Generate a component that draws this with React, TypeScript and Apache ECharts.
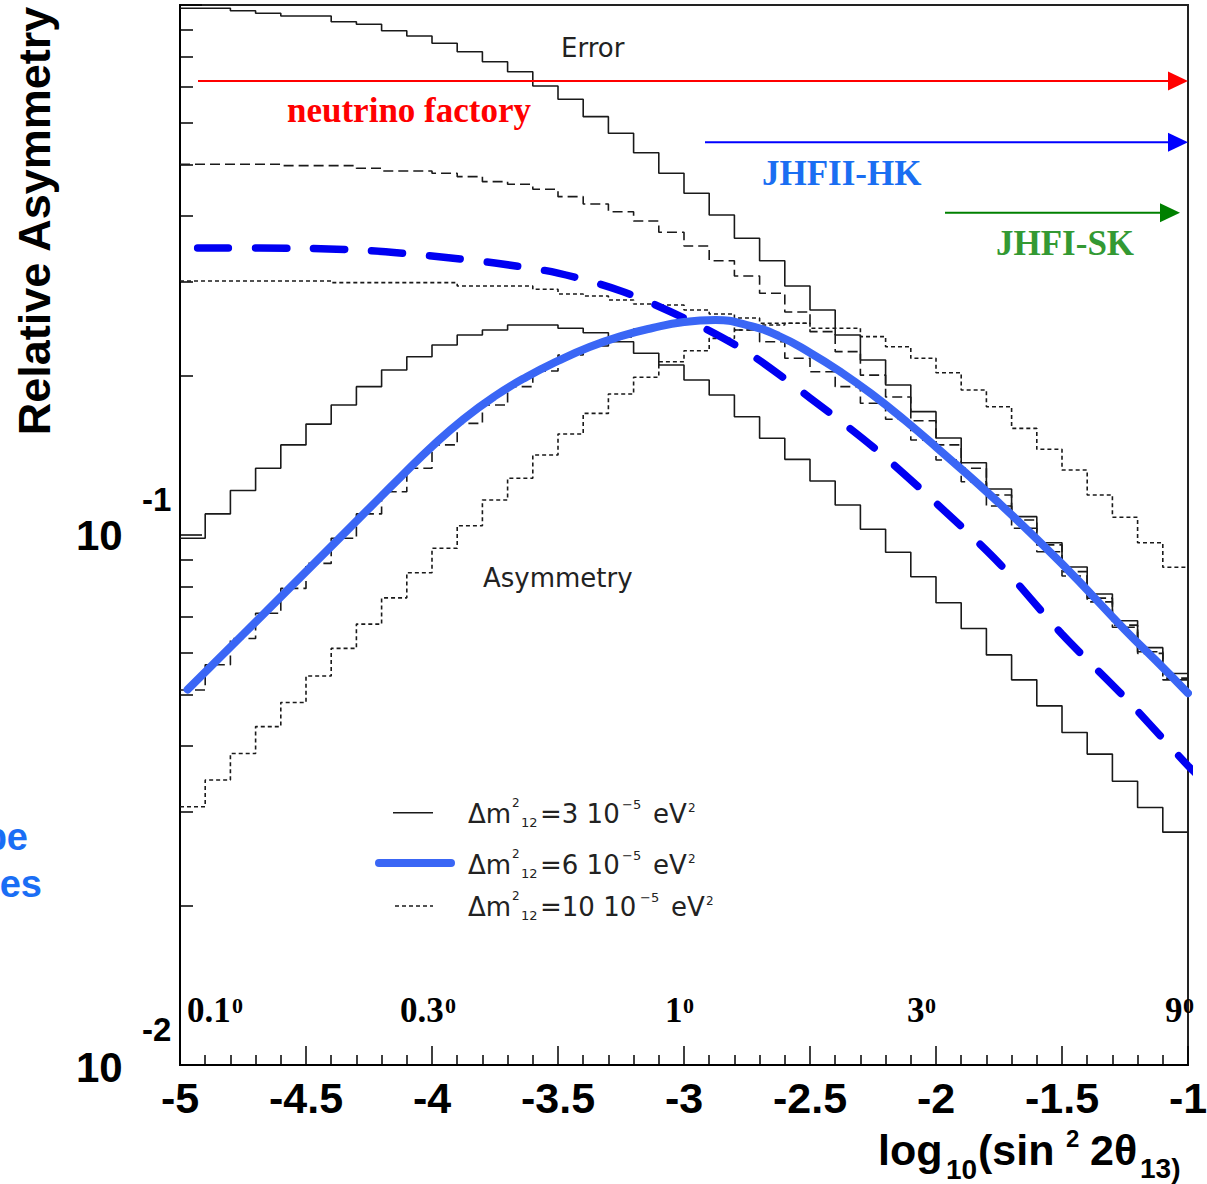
import React, { useEffect, useRef } from "react";
import * as echarts from "echarts";

// bin edges of the histograms (log10 sin^2 2theta13)
const BIN_EDGES = [-5.0, -4.9, -4.8, -4.7, -4.6, -4.5, -4.4, -4.3, -4.2, -4.1, -4.0, -3.9, -3.8, -3.7, -3.6, -3.5, -3.4, -3.3, -3.2, -3.1, -3.0, -2.9, -2.8, -2.7, -2.6, -2.5, -2.4, -2.3, -2.2, -2.1, -2.0, -1.9, -1.8, -1.7, -1.6, -1.5, -1.4, -1.3, -1.2, -1.1, -1.0];

// Δm²12 = 3e-5 (solid)
const ERR_DM3 = [0.986, 0.986, 0.9755, 0.9646, 0.9533, 0.9533, 0.930, 0.9196, 0.8944, 0.874, 0.8467, 0.8163, 0.7816, 0.7484, 0.7034, 0.6639, 0.6156, 0.5727, 0.5264, 0.4815, 0.4413, 0.4016, 0.3629, 0.3293, 0.2950, 0.2658, 0.2384, 0.2139, 0.1919, 0.1709, 0.1524, 0.1369, 0.1221, 0.1083, 0.0967, 0.0870, 0.0774, 0.0689, 0.0613, 0.0548];
const ASYM_DM3 = [0.0986, 0.1096, 0.1213, 0.1336, 0.1479, 0.1619, 0.1759, 0.1905, 0.2048, 0.2170, 0.2283, 0.2384, 0.2437, 0.2490, 0.2490, 0.2455, 0.2408, 0.2315, 0.2202, 0.2093, 0.1961, 0.1837, 0.1672, 0.1522, 0.1389, 0.1264, 0.1139, 0.1025, 0.0928, 0.0834, 0.0745, 0.0666, 0.0594, 0.0533, 0.0476, 0.0424, 0.0386, 0.0343, 0.0306, 0.0275];

// Δm²12 = 6e-5 (dashed)
const ERR_DM6 = [0.5006, 0.5006, 0.5006, 0.5006, 0.4976, 0.4976, 0.4976, 0.4920, 0.4862, 0.4862, 0.4815, 0.4744, 0.4642, 0.4590, 0.4491, 0.4349, 0.4213, 0.4074, 0.3913, 0.3725, 0.3509, 0.3293, 0.3081, 0.2858, 0.2635, 0.2419, 0.2218, 0.2003, 0.1821, 0.1643, 0.1479, 0.1336, 0.1190, 0.1067, 0.0958, 0.0853, 0.0760, 0.0676, 0.0602, 0.0537];
const ASYM_DM6 = [0.0510, 0.0569, 0.0638, 0.0712, 0.0793, 0.0884, 0.0986, 0.1096, 0.1207, 0.1336, 0.1479, 0.1624, 0.1759, 0.1905, 0.2039, 0.2186, 0.2273, 0.2364, 0.2447, 0.2501, 0.2534, 0.2534, 0.2437, 0.2315, 0.2155, 0.2033, 0.1905, 0.1772, 0.1653, 0.1511, 0.1385, 0.1260, 0.1134, 0.1030, 0.0930, 0.0837, 0.0748, 0.0670, 0.0598, 0.0533];

// Δm²12 = 10e-5 (dotted); error merges with asymmetry after bin 24
const ERR_DM10 = [0.3015, 0.3015, 0.3015, 0.3015, 0.3015, 0.3015, 0.2993, 0.2993, 0.2993, 0.2993, 0.2993, 0.2950, 0.2950, 0.2950, 0.2908, 0.2849, 0.2824, 0.2776, 0.2728, 0.2716, 0.2658, 0.2612, 0.2567, 0.2509, 0.2509];
const ASYM_DM10 = [0.0307, 0.0345, 0.0387, 0.0435, 0.0483, 0.0542, 0.0611, 0.0679, 0.0761, 0.0849, 0.0944, 0.1041, 0.1164, 0.1280, 0.1416, 0.1551, 0.1696, 0.1845, 0.1984, 0.2123, 0.2227, 0.2350, 0.2437, 0.2490, 0.2509, 0.2455, 0.2455, 0.2367, 0.2266, 0.2155, 0.2024, 0.1877, 0.1746, 0.1589, 0.1451, 0.1326, 0.1190, 0.1080, 0.0967, 0.0869];

// hand-drawn blue curves
const BLUE_DASHED_X = [-4.93, -4.5, -4.25, -4.0, -3.75, -3.5, -3.25, -3.0, -2.75, -2.5, -2.25, -2.0, -1.75, -1.5, -1.25, -1.0, -0.95];
const BLUE_DASHED_Y = [0.348, 0.3474, 0.3439, 0.336, 0.3259, 0.312, 0.2887, 0.2566, 0.2214, 0.1814, 0.1466, 0.1149, 0.0885, 0.065, 0.0493, 0.0367, 0.0348];
const BLUE_SOLID_X = [-4.97, -4.75, -4.5, -4.25, -4.125, -4.0, -3.875, -3.75, -3.625, -3.5, -3.375, -3.25, -3.125, -3.0, -2.875, -2.75, -2.625, -2.5, -2.375, -2.25, -2.125, -2.0, -1.75, -1.5, -1.25, -1.125, -1.0];
const BLUE_SOLID_Y = [0.0511, 0.0649, 0.0853, 0.1122, 0.1286, 0.1469, 0.1655, 0.1829, 0.1987, 0.2130, 0.2263, 0.2373, 0.2458, 0.2522, 0.2544, 0.2490, 0.2376, 0.2208, 0.2026, 0.1837, 0.1648, 0.1466, 0.1149, 0.0882, 0.0662, 0.0578, 0.0503];

const Y_MINOR_TICKS = [0.02, 0.03, 0.04, 0.05, 0.06, 0.07, 0.08, 0.09, 0.2, 0.3, 0.4, 0.5, 0.6, 0.7, 0.8, 0.9];
const Y_LABEL_VALUES = [0.1, 0.01];
const Y_LABEL_EXPONENTS = ["-1", "-2"];
const DEGREE_LABELS = ["0.1", "0.3", "1", "3", "9"];
const LEGEND_VALUES = ["=3 10", "=6 10", "=10 10"];

function hist(values: number[]) {
  const pts: number[][] = values.map((v, i) => [BIN_EDGES[i], v]);
  pts.push([BIN_EDGES[values.length], values[values.length - 1]]);
  return pts;
}

function pairs(xs: number[], ys: number[]) {
  return xs.map((x, i) => [x, ys[i]]);
}

const INK = "#1a1a1a";
const SANS = '"Liberation Sans", Arial, sans-serif';
const SERIF = '"Liberation Serif", "Times New Roman", serif';
const ROOTF = '"DejaVu Sans", sans-serif';

function histSeries(values: number[], type: any) {
  return {
    type: "line",
    data: hist(values),
    step: "end",
    symbol: "none",
    showSymbol: false,
    silent: true,
    lineStyle: { color: INK, width: 1.6, type },
    z: 2,
  };
}

function txt(text: string, x: number, y: number, font: string, fill: string, align = "left", extra: any = {}) {
  return {
    type: "text",
    x,
    y,
    z: 100,
    silent: true,
    ...extra,
    style: {
      text,
      font,
      fill,
      align,
      verticalAlign: "middle",
      textAlign: align,
      textVerticalAlign: "middle",
    },
  };
}

function arrow(x1: number, x2: number, y: number, color: string) {
  return [
    { type: "line", z: 100, silent: true, shape: { x1, y1: y, x2: x2 - 18, y2: y }, style: { stroke: color, lineWidth: 2 } },
    {
      type: "polygon",
      z: 100,
      silent: true,
      shape: { points: [[x2 - 20, y - 9.5], [x2, y], [x2 - 20, y + 9.5]] },
      style: { fill: color },
    },
  ];
}

export default function App() {
  const ref = useRef<HTMLDivElement>(null);

  useEffect(() => {
    document.body.style.margin = "0";
    const chart = echarts.init(ref.current!, null, { renderer: "svg" });
    const option: any = {
      animation: false,
      backgroundColor: "#ffffff",
      grid: {
        left: 180,
        right: 19,
        top: 5,
        bottom: 119,
        containLabel: false,
        outerBoundsMode: "none",
        show: true,
        borderColor: "#222",
        borderWidth: 2,
        backgroundColor: "transparent",
      },
      xAxis: {
        type: "value",
        min: -5,
        max: -1,
        interval: 0.5,
        axisLine: { show: true, onZero: false, lineStyle: { color: "#000", width: 2 } },
        axisTick: { show: true, inside: true, length: 19, lineStyle: { color: "#000", width: 1.5 } },
        minorTick: { show: true, splitNumber: 5, length: 10, lineStyle: { color: "#000", width: 1.5 } },
        splitLine: { show: false },
        minorSplitLine: { show: false },
        axisLabel: {
          show: true,
          margin: 11,
          color: "#000",
          fontFamily: SANS,
          fontWeight: "bold",
          fontSize: 43,
          showMinLabel: true,
          showMaxLabel: true,
          hideOverlap: false,
          formatter: (v: number) => String(v),
        },
      },
      yAxis: [
        {
          type: "log",
          logBase: 10,
          min: 0.01,
          max: 1,
          position: "left",
          axisLine: { show: true, onZero: false, lineStyle: { color: "#000", width: 2 } },
          axisTick: { show: true, inside: true, length: 22, lineStyle: { color: "#000", width: 1.5 } },
          axisLabel: { show: false },
          splitLine: { show: false },
          minorTick: { show: false },
        },
        {
          type: "log",
          logBase: 10,
          min: 0.01,
          max: 1,
          position: "left",
          offset: 0,
          axisLine: { show: false },
          axisTick: { show: true, inside: true, length: 13, customValues: Y_MINOR_TICKS, lineStyle: { color: "#000", width: 1.5 } },
          axisLabel: { show: false },
          splitLine: { show: false },
        },
      ],
      series: [
        histSeries(ERR_DM3, "solid"),
        histSeries(ASYM_DM3, "solid"),
        histSeries(ERR_DM6, [10, 5]),
        histSeries(ASYM_DM6, [10, 5]),
        histSeries(ERR_DM10, [4, 3]),
        histSeries(ASYM_DM10, [4, 3]),
        {
          type: "line",
          data: pairs(BLUE_DASHED_X, BLUE_DASHED_Y),
          smooth: 0.3,
          symbol: "none",
          showSymbol: false,
          silent: true,
          clip: false,
          lineStyle: { color: "#0000f2", width: 7.5, type: [31, 27], cap: "round" },
          z: 3,
        },
        {
          type: "line",
          data: pairs(BLUE_SOLID_X, BLUE_SOLID_Y),
          smooth: 0.5,
          symbol: "none",
          showSymbol: false,
          silent: true,
          lineStyle: { color: "#3a66f5", width: 8, cap: "round", join: "round" },
          z: 4,
        },
      ],
    };
    chart.setOption(option);

    const yPix = Y_LABEL_VALUES.map((v) => chart.convertToPixel({ yAxisIndex: 0 }, v) as number);

    const g: any[] = [];
    // y axis title
    g.push(txt("Relative Asymmetry", 34, 221, `bold 45px ${SANS}`, "#000", "center", { rotation: Math.PI / 2 }));
    // y axis labels 10^-1, 10^-2
    yPix.forEach((py, i) => {
      g.push(txt("10", 76, py + (i === 0 ? 0 : 2.5), `bold 42px ${SANS}`, "#000"));
      g.push(txt(Y_LABEL_EXPONENTS[i], 142, py - 36, `bold 33px ${SANS}`, "#000"));
    });
    // x axis title
    g.push(txt("log", 878, 1150, `bold 43px ${SANS}`, "#000"));
    g.push(txt("10", 946, 1169, `bold 28px ${SANS}`, "#000"));
    g.push(txt("(sin", 978, 1150, `bold 43px ${SANS}`, "#000"));
    g.push(txt("2", 1066, 1138, `bold 24px ${SANS}`, "#000"));
    g.push(txt("2θ", 1090, 1150, `bold 43px ${SANS}`, "#000"));
    g.push(txt("13)", 1140, 1168, `bold 28px ${SANS}`, "#000"));
    // degree labels
    const degX = [187, 400, 665, 907, 1165];
    const degSupX = [232, 445, 683, 925, 1183];
    DEGREE_LABELS.forEach((d, i) => {
      g.push(txt(d, degX[i], 1010, `bold 35px ${SERIF}`, "#000"));
      g.push(txt("0", degSupX[i], 1005.5, `bold 22px ${SERIF}`, "#000"));
    });
    // Error / Asymmetry annotations
    g.push(txt("Error", 561, 48, `26px ${ROOTF}`, "#222"));
    g.push(txt("Asymmetry", 483, 578, `26px ${ROOTF}`, "#222"));
    // arrows and experiment labels
    g.push(...arrow(198, 1188, 81, "#ff0000"));
    g.push(...arrow(705, 1188, 142.3, "#0000ff"));
    g.push(...arrow(945, 1180, 212.7, "#008000"));
    g.push(txt("neutrino factory", 287, 110, `bold 35px ${SERIF}`, "#ff0000"));
    g.push(txt("JHFII-HK", 762, 173, `bold 35px ${SERIF}`, "#1a6ef2"));
    g.push(txt("JHFI-SK", 996, 243, `bold 35px ${SERIF}`, "#339933"));
    // clipped left-side words
    g.push(txt("pe", 28, 837, `bold 38px ${SANS}`, "#1a6ef5", "right"));
    g.push(txt("es", 42, 884, `bold 38px ${SANS}`, "#1a6ef5", "right"));
    // legend samples
    g.push({ type: "line", z: 100, silent: true, shape: { x1: 393, y1: 812.7, x2: 433, y2: 812.7 }, style: { stroke: INK, lineWidth: 1.5 } });
    g.push({ type: "line", z: 100, silent: true, shape: { x1: 379, y1: 863, x2: 451, y2: 863 }, style: { stroke: "#3a66f5", lineWidth: 8, lineCap: "round" } });
    g.push({ type: "line", z: 100, silent: true, shape: { x1: 395, y1: 906, x2: 433, y2: 906 }, style: { stroke: INK, lineWidth: 1.5, lineDash: [4, 3] } });
    // legend texts
    const rowBase = [823, 874, 916];
    const minusX = [622, 622, 640];
    const eVX = [653, 653, 671];
    rowBase.forEach((b, i) => {
      const main = b - 9;
      g.push(txt("Δm", 468, main, `26px ${ROOTF}`, "#222"));
      g.push(txt("2", 512, b - 16 - 4.2, `12px ${ROOTF}`, "#222"));
      g.push(txt("12", 521, b + 4 - 4.5, `13px ${ROOTF}`, "#222"));
      g.push(txt(LEGEND_VALUES[i], 540, main, `26px ${ROOTF}`, "#222"));
      g.push(txt("−5", minusX[i], b - 14 - 4.5, `13px ${ROOTF}`, "#222"));
      g.push(txt("eV", eVX[i], main, `26px ${ROOTF}`, "#222"));
      g.push(txt("2", eVX[i] + 35, b - 11 - 4.2, `12px ${ROOTF}`, "#222"));
    });

    chart.setOption({ graphic: g });

    return () => chart.dispose();
  }, []);

  return (
    <div
      ref={ref}
      style={{ position: "absolute", left: 0, top: 0, width: 1207, height: 1184, background: "#ffffff" }}
    />
  );
}
